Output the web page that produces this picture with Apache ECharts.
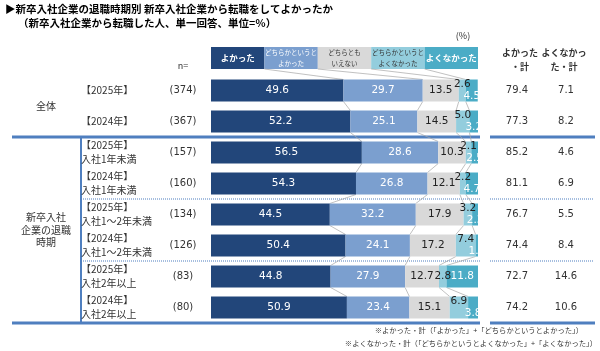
<!DOCTYPE html>
<html>
<head>
<meta charset="utf-8">
<script src="https://cdn.jsdelivr.net/npm/echarts@6/dist/echarts.min.js"></script>
<style>
  html, body { margin: 0; background: #fff; }
  #chart { width: 600px; height: 351px; }
</style>
</head>
<body>
<div id="chart"></div>
<script>
// rows (top -> bottom)
var rowLabels = [
  '【2025年】', '【2024年】',
  '【2025年】\n入社1年未満', '【2024年】\n入社1年未満',
  '【2025年】\n入社1～2年未満', '【2024年】\n入社1～2年未満',
  '【2025年】\n入社2年以上', '【2024年】\n入社2年以上'
]
var nLabels = ['(374)', '(367)', '(157)', '(160)', '(134)', '(126)', '(83)', '(80)']
var seriesNames = ['よかった', 'どちらかというとよかった', 'どちらともいえない', 'どちらかというとよくなかった', 'よくなかった']
var headerLabels = ['よかった', 'どちらかというと\nよかった', 'どちらとも\nいえない', 'どちらかというと\nよくなかった', 'よくなかった']

var good = [49.6, 52.2, 56.5, 54.3, 44.5, 50.4, 44.8, 50.9]
var ratherGood = [29.7, 25.1, 28.6, 26.8, 32.2, 24.1, 27.9, 23.4]
var neither = [13.5, 14.5, 10.3, 12.1, 17.9, 17.2, 12.7, 15.1]
var ratherBad = [2.6, 5.0, 2.1, 2.2, 3.2, 7.4, 2.8, 6.9]
var bad = [4.5, 3.2, 2.5, 4.7, 2.3, 1.0, 11.8, 3.8]

var goodTotal = [79.4, 77.3, 85.2, 81.1, 76.7, 74.4, 72.7, 74.2]
var badTotal = [7.1, 8.2, 4.6, 6.9, 5.5, 8.4, 14.6, 10.6]

var colors = ['#22467a', '#7b9fcf', '#d9d9d9', '#93cddd', '#4bacc6']
var labelColors = ['#fff', '#fff', '#222', '#222', '#fff']
var headerTextColors = ['#fff', '#fff', '#333', '#333', '#fff']

var JP = '"Noto Sans CJK JP", sans-serif'
var NUM = '"DejaVu Sans", sans-serif'
var gridLeft = 211, gridRight = 478, gridTop = 75, gridH = 248
var barW = 22
var lineBlue = '#4f7fbf'

var chart = echarts.init(document.getElementById('chart'))

var values = [good, ratherGood, neither, ratherBad, bad]
var cums = good.map(function (v, i) {
  var s = 0, out = []
  for (var k = 0; k < 4; k++) { s += values[k][i]; out.push(s) }
  return out
})

var barSeries = values.map(function (arr, si) {
  return {
    name: seriesNames[si],
    type: 'bar',
    stack: 'all',
    barWidth: barW,
    itemStyle: { color: colors[si] },
    label: {
      show: true,
      position: 'inside',
      color: labelColors[si],
      fontFamily: NUM,
      fontSize: 10.5,
      formatter: function (p) { return p.value.toFixed(1) }
    },
    data: arr.map(function (v, i) {
      var item = { value: v }
      // small tail segments: stagger the two labels like the original
      if (si >= 3 && bad[i] < 8) {
        item.label = { offset: [0, si === 3 ? -6 : 6] }
      }
      return item
    })
  }
})

// thin grey connectors between segment borders of neighbouring bars
var connectors = {
  type: 'custom',
  coordinateSystem: 'cartesian2d',
  silent: true,
  z: 1,
  data: good.map(function (v, i) { return [0, i] }),
  renderItem: function (params, api) {
    var i = params.dataIndex
    var kids = []
    var st = { stroke: '#a6a6a6', lineWidth: 0.7 }
    var y0 = api.coord([0, i])[1]
    if (i === 0) {
      for (var k = 0; k < 4; k++) {
        kids.push({
          type: 'line',
          shape: { x1: api.coord([20 * (k + 1), 0])[0], y1: 69, x2: api.coord([cums[0][k], 0])[0], y2: y0 - barW / 2 },
          style: st
        })
      }
    }
    if (i < good.length - 1) {
      var y1 = api.coord([0, i + 1])[1]
      for (var k2 = 0; k2 < 4; k2++) {
        kids.push({
          type: 'line',
          shape: { x1: api.coord([cums[i][k2], i])[0], y1: y0 + barW / 2, x2: api.coord([cums[i + 1][k2], i + 1])[0], y2: y1 - barW / 2 },
          style: st
        })
      }
    }
    return { type: 'group', children: kids }
  }
}

function catAxis(position, labels, margin, align, extra) {
  return Object.assign({
    type: 'category',
    inverse: true,
    position: position,
    data: labels.map(function (l, i) { return String(i) }),
    axisLine: { show: false },
    axisTick: { show: false },
    axisLabel: {
      margin: margin,
      align: align,
      color: '#333',
      fontFamily: JP,
      fontSize: 10,
      lineHeight: 14,
      formatter: function (v) { return labels[+v] }
    }
  }, extra || {})
}

// header boxes, separators, group labels
var boxW = (gridRight - gridLeft) / 5
var graphic = []
headerLabels.forEach(function (t, k) {
  graphic.push({
    type: 'rect',
    shape: { x: gridLeft + k * boxW, y: 47, width: boxW, height: 22 },
    style: { fill: colors[k] }
  })
  graphic.push({
    type: 'text',
    x: gridLeft + k * boxW + boxW / 2,
    y: 58,
    style: {
      text: t, fill: headerTextColors[k], fontFamily: JP,
      fontSize: t.indexOf('\n') > 0 ? 6.5 : 8.5,
      fontWeight: t.indexOf('\n') > 0 ? 'normal' : 'bold',
      lineHeight: 11, align: 'center', verticalAlign: 'middle'
    }
  })
})

function hline(x1, x2, y, w, dash) {
  return {
    type: 'line',
    shape: { x1: x1, y1: y, x2: x2, y2: y },
    style: { stroke: lineBlue, lineWidth: w, lineDash: dash || null }
  }
}
var rowH = gridH / 8
graphic.push(hline(12, 480, gridTop + 2 * rowH, 3))
graphic.push(hline(490, 595, gridTop + 2 * rowH, 3))
graphic.push(hline(12, 480, gridTop + 8 * rowH, 3))
graphic.push(hline(490, 595, gridTop + 8 * rowH, 3))
graphic.push(hline(81, 480, gridTop + 4 * rowH, 1, [1, 1]))
graphic.push(hline(490, 593, gridTop + 4 * rowH, 1, [1, 1]))
graphic.push(hline(81, 480, gridTop + 6 * rowH, 1, [1, 1]))
graphic.push(hline(490, 593, gridTop + 6 * rowH, 1, [1, 1]))
graphic.push({
  type: 'line',
  shape: { x1: 81, y1: gridTop + 2 * rowH, x2: 81, y2: gridTop + 8 * rowH },
  style: { stroke: lineBlue, lineWidth: 2 }
})

function txt(x, y, t, opt) {
  return {
    type: 'text', x: x, y: y,
    style: Object.assign({
      text: t, fill: '#333', fontFamily: JP, fontSize: 10,
      align: 'center', verticalAlign: 'middle', lineHeight: 12.5
    }, opt || {})
  }
}
graphic.push(txt(46, gridTop + rowH, '全体'))
graphic.push(txt(46, gridTop + 5 * rowH, '新卒入社\n企業の退職\n時期'))
graphic.push(txt(183, 66, 'n=', { fontSize: 9 }))
graphic.push(txt(463, 36, '(%)', { fontSize: 9 }))
graphic.push(txt(520, 60, 'よかった\n・計', { fontSize: 9, fontWeight: 'bold', lineHeight: 14 }))
graphic.push(txt(564, 60, 'よくなかっ\nた・計', { fontSize: 9, fontWeight: 'bold', lineHeight: 14 }))
graphic.push(txt(5, 9, '▶新卒入社企業の退職時期別 新卒入社企業から転職をしてよかったか', { align: 'left', fontWeight: 'bold', fontSize: 10.5, fill: '#000' }))
graphic.push(txt(18, 23, '（新卒入社企業から転職した人、単一回答、単位=％）', { align: 'left', fontWeight: 'bold', fontSize: 10.5, fill: '#000' }))
graphic.push(txt(583, 330, '※よかった・計（「よかった」+「どちらかというとよかった」）', { align: 'right', fontSize: 7.3 }))
graphic.push(txt(597, 343, '※よくなかった・計（「どちらかというとよくなかった」+「よくなかった」）', { align: 'right', fontSize: 7.3 }))

chart.setOption({
  animation: false,
  grid: { left: gridLeft, right: 600 - gridRight, top: gridTop, height: gridH },
  xAxis: { type: 'value', min: 0, max: 100, show: false },
  yAxis: [
    catAxis('left', rowLabels, gridLeft - 81, 'left'),
    catAxis('left', nLabels, gridLeft - 183, 'center', { axisLabel: { margin: gridLeft - 183, align: 'center', color: '#333', fontFamily: NUM, fontSize: 10, formatter: function (v) { return nLabels[+v] } } }),
    catAxis('right', goodTotal, 517 - gridRight, 'center', { axisLabel: { margin: 517 - gridRight, align: 'center', color: '#333', fontFamily: NUM, fontSize: 10, formatter: function (v) { return goodTotal[+v].toFixed(1) } } }),
    catAxis('right', badTotal, 566 - gridRight, 'center', { axisLabel: { margin: 566 - gridRight, align: 'center', color: '#333', fontFamily: NUM, fontSize: 10, formatter: function (v) { return badTotal[+v].toFixed(1) } } })
  ],
  series: barSeries.concat([connectors]),
  graphic: graphic
})
</script>
</body>
</html>
